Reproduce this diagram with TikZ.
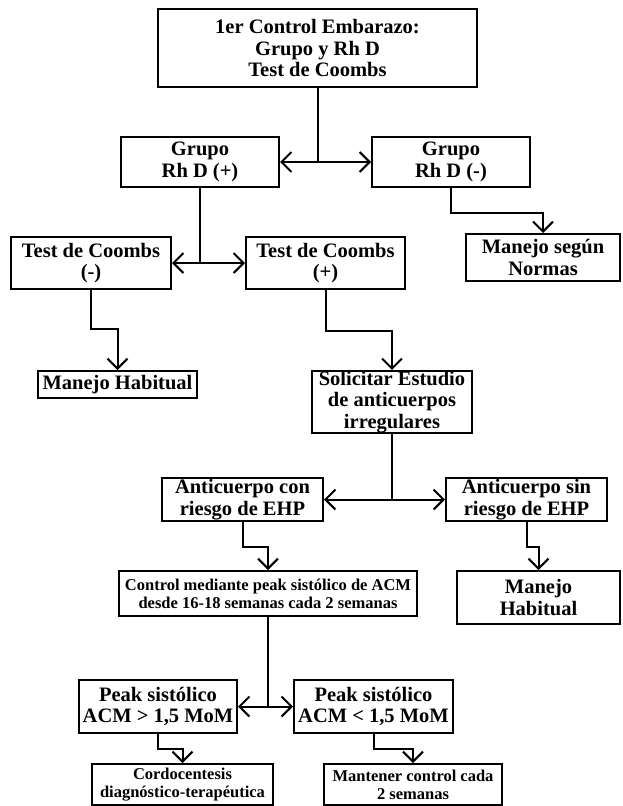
\documentclass[tikz,border=0pt]{standalone}
\usepackage{fontspec}
\setmainfont{Liberation Serif}
\usepackage{tikz}
\usetikzlibrary{arrows.meta}
\tikzset{
	caja/.style={draw, line width=2pt, align=center, inner sep=0pt, font=\fontsize{20.5}{21.7}\selectfont\bfseries},
	cajachica/.style={caja, font=\fontsize{16.5}{17.8}\selectfont\bfseries},
	flecha/.style={line width=2pt, -{Straight Barb[length=10pt,width=20pt]}}
}

\begin{document}
\begin{tikzpicture}[x=1pt,y=1pt,yscale=-1]
	\useasboundingbox (0,0) rectangle (622,806);
	\node[caja, minimum width=319pt, minimum height=78pt, name=Ctrl] at (317.5,48) {1er Control Embarazo:\\Grupo y Rh D\\Test de Coombs};
	\node[caja, minimum width=158pt, minimum height=50pt, name=GrP] at (200,162) {Grupo\\Rh D (+)};
	\node[caja, minimum width=158pt, minimum height=50pt, name=GrN] at (451,162) {Grupo\\Rh D (-)};
	\draw[flecha] (Ctrl.south) |- (GrP.east);
	\draw[flecha] (Ctrl.south) |- (GrN.west);
	\node[caja, minimum width=160pt, minimum height=52pt, name=CoN] at (91,263) {Test de Coombs\\(-)};
	\node[caja, minimum width=159pt, minimum height=52pt, name=CoP] at (325.5,263) {Test de Coombs\\(+)};
	\draw[flecha] (GrP.south) |- (CoN.east);
	\draw[flecha] (GrP.south) |- (CoP.west);
	\node[caja, minimum width=154pt, minimum height=47pt, name=Norm] at (543,257.5) {Manejo según\\Normas};
	\draw[flecha] (GrN.south) -- ++(0,25) -| (Norm.north);
	\node[caja, minimum width=159pt, minimum height=27pt, name=Hab1] at (117.5,384.5) {Manejo Habitual};
	\draw[flecha] (CoN.south) -- ++(0,39) -| (Hab1.north);
	\node[caja, minimum width=160pt, minimum height=62pt, name=Sol] at (392,402) {Solicitar Estudio\\de anticuerpos\\irregulares};
	\draw[flecha] (CoP.south) -- ++(0,41) -| (Sol.north);
	\node[caja, minimum width=161pt, minimum height=43pt, name=AcCon] at (242.5,499.5) {Anticuerpo con\\riesgo de EHP};
	\node[caja, minimum width=161pt, minimum height=43pt, name=AcSin] at (526.5,499.5) {Anticuerpo sin\\riesgo de EHP};
	\draw[flecha] (Sol.south) |- (AcCon.east);
	\draw[flecha] (Sol.south) |- (AcSin.west);
	\node[cajachica, minimum width=298pt, minimum height=45pt, name=Acm] at (268,593.5) {Control mediante peak sistólico de ACM\\desde 16-18 semanas cada 2 semanas};
	\node[caja, minimum width=163pt, minimum height=53pt, name=Hab2] at (538.5,597.5) {Manejo\\Habitual};
	\draw[flecha] (AcCon.south) -- ++(0,25) -| (Acm.north);
	\draw[flecha] (AcSin.south) -- ++(0,25) -| (Hab2.north);
	\node[caja, minimum width=158pt, minimum height=53pt, name=PkMay] at (158,706.5) {Peak sistólico\\ACM > 1,5 MoM};
	\node[caja, minimum width=159pt, minimum height=53pt, name=PkMen] at (373.5,706.5) {Peak sistólico\\ACM < 1,5 MoM};
	\draw[flecha] (Acm.south) |- (PkMay.east);
	\draw[flecha] (Acm.south) |- (PkMen.west);
	\node[cajachica, minimum width=181pt, minimum height=41pt, name=Cordo] at (182.5,784.5) {Cordocentesis\\diagnóstico-terapéutica};
	\node[cajachica, minimum width=178pt, minimum height=41pt, name=Mant] at (413,784.5) {Mantener control cada\\2 semanas};
	\draw[flecha] (PkMay.south) -- ++(0,15) -| (Cordo.north);
	\draw[flecha] (PkMen.south) -- ++(0,15) -| (Mant.north);
\end{tikzpicture}
\end{document}
